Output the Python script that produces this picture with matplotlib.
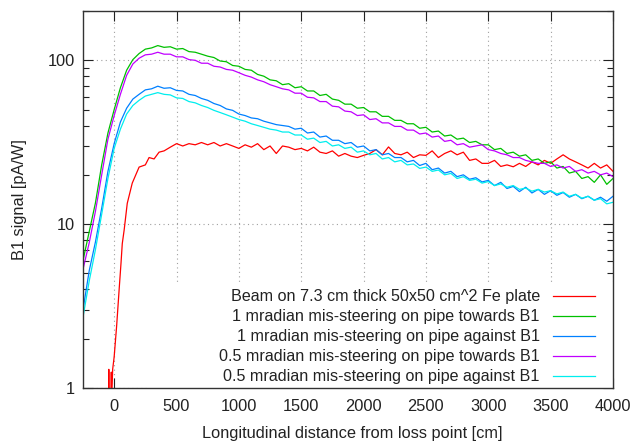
import numpy as np
import matplotlib.pyplot as plt
from matplotlib.patches import Rectangle
from matplotlib.ticker import LogLocator, FixedLocator, NullFormatter

plt.rcParams['font.family'] = ['Liberation Sans', 'DejaVu Sans']

# distance from loss point [cm], shared by the four mis-steering curves
x = np.arange(-250, 4001, 50)

green = [6.0, 9.0, 13.5, 23, 36, 50, 68, 87, 101, 110, 117, 119, 123, 120, 121, 117, 118,
         113, 112, 109, 106, 104, 99, 98, 93, 92, 88, 87, 82, 80, 76, 75, 71, 72, 68, 69,
         65, 65, 61, 62, 58, 57, 54, 54, 51, 51.5, 48.5, 48.5, 45.5, 45.5, 43, 43, 41, 41,
         38.5, 39, 36.5, 37, 34.5, 35, 33, 33.5, 31.5, 32, 30.5, 30.5, 28.5, 29, 27, 27.5,
         26, 26.5, 24.5, 25, 23.5, 24, 22, 22.5, 20.5, 21, 19, 19.5, 18, 20, 17.5, 19]

purple = [5.3, 7.7, 12, 20, 33, 46, 62, 81, 95, 103, 108, 109, 112, 109, 109, 105, 105,
          101, 100, 96, 96, 92, 91, 88, 87, 84, 81, 79, 76, 74, 71, 69, 67, 66, 63, 63,
          59.5, 59, 56, 56, 52.5, 52, 49, 48.5, 46, 46.5, 43.5, 44, 41.5, 41.5, 39.5, 39.5,
          37.5, 37.5, 35.5, 36, 34, 34.5, 32, 32.5, 30.5, 31, 29.5, 30, 30.5, 28.5, 28, 27,
          26.5, 25.5, 25.5, 24.5, 24, 23.5, 23.5, 22.5, 23, 22, 22.5, 21, 21.5, 20.5, 21,
          20, 20.5, 19.5]

blue = [3.0, 5.2, 7.8, 12.5, 21, 31, 42, 51, 58, 62, 66, 67, 69.5, 67.5, 68, 65.5, 65,
        62, 61, 58.5, 57, 54.5, 53, 50.5, 49.5, 47, 46, 44.5, 44, 42.5, 41.5, 40.5, 40,
        39.5, 38, 38.5, 36, 36.5, 34, 34.5, 32.5, 32.5, 31, 31.5, 29.5, 30, 28, 28.5, 26.5,
        27, 25.5, 25.5, 24, 24.5, 22.8, 23.5, 21.5, 22, 20.5, 21, 19.5, 20, 18.8, 19.2,
        18.1, 18.5, 17.2, 18, 16.5, 17, 15.8, 16.8, 15.5, 16.3, 15.2, 16, 15, 15.6, 14.6,
        15.2, 14.3, 14.8, 14, 14.6, 13.8, 14.8]

cyan = [2.7, 4.5, 7.0, 11.5, 19, 29, 38, 47, 53, 57, 60.5, 62, 63.5, 62, 61.5, 59, 58.5,
        56, 55, 53, 51.5, 49.5, 48, 46.5, 45, 43.5, 42.5, 41, 40, 39, 38, 37.5, 36.5, 36.5,
        35, 35, 33, 33.5, 31.5, 32, 30, 30.5, 29, 29.5, 27.5, 28, 26.5, 27, 25, 25.5, 24,
        24.5, 23, 23.3, 21.9, 22.3, 21, 21.4, 20, 20.4, 19, 19.5, 18.5, 18.8, 17.8, 18.2,
        17.2, 17.6, 16.8, 17.2, 16.3, 16.6, 15.9, 16.3, 15.7, 16, 15.3, 15.7, 14.8, 15.2,
        14.4, 14.8, 14, 14.3, 13.3, 13.6]

# Fe plate curve starts later and rises steeply
red_x = [-45, -43, -41, -25, -23, -21, -12, 0, 20, 40, 55, 65, 80, 105, 145, 200, 250,
         280, 320, 360] + list(range(400, 4001, 50))
red = [0.8, 1.3, 0.8, 0.8, 1.25, 0.8, 1.3, 1.55, 2.4, 4.0, 5.8, 7.6, 9.2, 13.4, 17.8,
       22.3, 23.0, 25.5, 25.0, 27.5,
       28, 29.5, 31, 30, 31, 30.5, 31.5, 30.5, 31.5, 30, 31, 30, 29, 30.5, 29.5, 31, 28.5,
       30, 27, 30, 29.5, 28.5, 29, 28, 29.5, 27.5, 27, 28, 26, 27, 26, 25.5, 26.3, 27,
       28.5, 26.5, 29.6, 27, 26.5, 27.5, 25.5, 26.5, 26.3, 28, 25.5, 27, 28, 26.5, 27.5,
       24.5, 25, 23.5, 23.5, 24.5, 22.5, 23, 22.4, 23.5, 22.5, 24, 23, 24.5, 23.5, 25,
       26.5, 25, 24, 23, 22, 23.5, 22, 23, 21]

labels = ['Beam on 7.3 cm thick 50x50 cm^2 Fe plate',
          '1 mradian mis-steering on pipe towards B1',
          '1 mradian mis-steering on pipe against B1',
          '0.5 mradian mis-steering on pipe towards B1',
          '0.5 mradian mis-steering on pipe against B1']
colors = ['#ff0000', '#00c000', '#0080ff', '#c000ff', '#00eeee']

fs = 11.8
txt = '#222222'

fig = plt.figure(figsize=(6.33, 4.45), dpi=100)
ax = fig.add_axes([0.1311, 0.1281, 0.8373, 0.8472])

ax.plot(red_x, red, color=colors[0], lw=0.9, label=labels[0])
ax.plot(x, green, color=colors[1], lw=0.9, label=labels[1])
ax.plot(x, blue, color=colors[2], lw=0.9, label=labels[2])
ax.plot(x, purple, color=colors[3], lw=0.9, label=labels[3])
ax.plot(x, cyan, color=colors[4], lw=0.9, label=labels[4])

ax.set_yscale('log')
ax.set_xlim(-250, 4000)
ax.set_ylim(1, 200)
ax.xaxis.set_major_locator(FixedLocator(range(0, 4001, 500)))
ax.yaxis.set_major_locator(FixedLocator([1, 10, 100]))
ax.yaxis.set_minor_locator(LogLocator(base=10, subs=range(2, 10)))
ax.yaxis.set_minor_formatter(NullFormatter())
ax.set_yticklabels(['1', '10', '100'])

ax.tick_params(which='both', direction='in', top=True, right=True, colors=txt,
               labelsize=fs)
ax.tick_params(which='major', length=7, width=0.8)
ax.tick_params(which='minor', length=4, width=0.8)
ax.tick_params(axis='x', pad=8)
ax.tick_params(axis='y', pad=6)
for s in ax.spines.values():
    s.set_color('#333333')
    s.set_linewidth(1.0)

ax.grid(True, which='major', color='#a0a0a0', lw=0.8, ls=(0, (1, 3)))
ax.set_axisbelow(True)

# key area blanks out the grid like gnuplot's opaque key
ax.add_patch(Rectangle((0.125, 0.0), 0.875, 0.278, transform=ax.transAxes,
                       facecolor='white', edgecolor='none', zorder=1))

ax.set_xlabel('Longitudinal distance from loss point [cm]', fontsize=fs, color=txt)
ax.set_ylabel('B1 signal [pA/W]', fontsize=fs, color=txt)
ax.xaxis.set_label_coords(0.508, -0.1)
ax.yaxis.set_label_coords(-0.106, 0.5)

leg = ax.legend(loc='lower right', bbox_to_anchor=(0.976, -0.005), markerfirst=False,
                fontsize=11.6, frameon=False,
                handlelength=2.6, handletextpad=0.8, labelspacing=0.31, borderpad=0.35,
                borderaxespad=0.0)
for t in leg.get_texts():
    t.set_color(txt)

fig.savefig('out.png', dpi=100)
